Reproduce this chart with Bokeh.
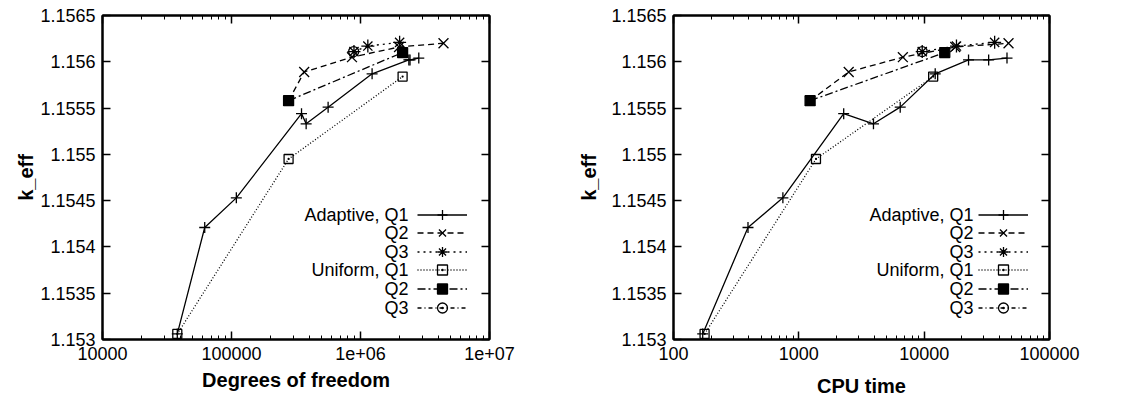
from bokeh.plotting import figure
from bokeh.models import (FixedTicker, CustomJSTickFormatter, LinearAxis, LogAxis,
                          Range1d, Legend, LegendItem, Label)
from bokeh.layouts import row
from bokeh.core.properties import value
from bokeh.embed import file_html
from bokeh.resources import INLINE

FONT = "Liberation Sans"

# ---------------- data ----------------
series_labels = ["Adaptive, Q1", "Q2", "Q3", "Uniform, Q1", "Q2", "Q3"]

adaptive_q1_dofs = [3.8e4, 6.2e4, 1.09e5, 3.49e5, 3.79e5, 5.61e5, 1.23e6, 2.37e6, 2.42e6, 2.83e6]
adaptive_q1_cpu = [171, 393, 746, 2280, 3940, 6440, 12250, 22600, 32700, 45800]
adaptive_q1_k = [1.15306, 1.15421, 1.15453, 1.15544, 1.15533, 1.15551, 1.15587, 1.15602, 1.15602, 1.15604]

adaptive_q2_dofs = [2.77e5, 3.66e5, 8.59e5, 1.99e6, 4.4e6]
adaptive_q2_cpu = [1230, 2500, 6760, 17700, 47100]
adaptive_q2_k = [1.15558, 1.15589, 1.15605, 1.15616, 1.15620]

adaptive_q3_dofs = [8.9e5, 1.14e6, 2.01e6]
adaptive_q3_cpu = [9650, 18100, 36500]
adaptive_q3_k = [1.15611, 1.15617, 1.15621]

uniform_q1_dofs = [3.8e4, 2.77e5, 2.12e6]
uniform_q1_cpu = [177, 1370, 11800]
uniform_q1_k = [1.15306, 1.15495, 1.15584]

uniform_q2_dofs = [2.77e5, 2.12e6]
uniform_q2_cpu = [1230, 14600]
uniform_q2_k = [1.15558, 1.15610]

uniform_q3_dofs = [8.85e5]
uniform_q3_cpu = [9650]
uniform_q3_k = [1.15611]

y_ticks = [1.153, 1.1535, 1.154, 1.1545, 1.155, 1.1555, 1.156, 1.1565]
dof_decades = [1e4, 1e5, 1e6, 1e7]
cpu_decades = [1e2, 1e3, 1e4, 1e5]

dofs_series = [adaptive_q1_dofs, adaptive_q2_dofs, adaptive_q3_dofs,
               uniform_q1_dofs, uniform_q2_dofs, uniform_q3_dofs]
cpu_series = [adaptive_q1_cpu, adaptive_q2_cpu, adaptive_q3_cpu,
              uniform_q1_cpu, uniform_q2_cpu, uniform_q3_cpu]
k_series = [adaptive_q1_k, adaptive_q2_k, adaptive_q3_k,
            uniform_q1_k, uniform_q2_k, uniform_q3_k]

# ---------------- styles ----------------
styles = [
    dict(dash="solid", marker="cross", size=11, fill=None),
    dict(dash="6 4", marker="x", size=14, fill=None),
    dict(dash="2 4", marker="asterisk", size=13, fill=None),
    dict(dash="1 2", marker="square_dot", size=9, fill=None),
    dict(dash="8 3 2 3", marker="square", size=10, fill="black"),
    dict(dash="4 3 1 3", marker="circle_dot", size=10, fill=None),
]

x_fmt = CustomJSTickFormatter(code="""
const e = Math.round(Math.log10(tick));
if (e >= 6) { return "1e+" + (e < 10 ? "0" : "") + e; }
return String(Math.round(tick));
""")
y_fmt = CustomJSTickFormatter(code="return String(parseFloat(tick.toFixed(5)));")
blank_fmt = CustomJSTickFormatter(code="return '';")


def minor_list(decades):
    out = []
    for d in decades[:-1]:
        for m in range(2, 10):
            out.append(m * d)
    return out


def style_axis(ax, labels=True):
    ax.axis_line_width = 2
    ax.axis_line_color = "black"
    ax.major_tick_in = 8
    ax.major_tick_out = 0
    ax.minor_tick_in = 4
    ax.minor_tick_out = 0
    ax.major_tick_line_width = 1.5
    ax.minor_tick_line_width = 1
    ax.major_tick_line_color = "black"
    ax.minor_tick_line_color = "black"
    if labels:
        ax.major_label_text_font = FONT
        ax.major_label_text_font_size = "18px"
        ax.major_label_text_color = "black"
        ax.axis_label_text_font = FONT
        ax.axis_label_text_font_size = "20px"
        ax.axis_label_text_font_style = "bold"
        ax.axis_label_text_color = "black"
    else:
        ax.major_label_text_font_size = "1px"
        ax.major_label_standoff = 0


def make_panel(xs_list, decades, xlabel, width, left_border, right_border,
               legend_x, label_x, ylab_standoff, xlab_standoff):
    p = figure(width=width, height=399, x_axis_type="log",
               x_range=Range1d(decades[0], decades[-1]),
               y_range=Range1d(y_ticks[0], y_ticks[-1]),
               output_backend="svg", toolbar_location=None,
               min_border_left=left_border, min_border_right=right_border,
               min_border_top=15, min_border_bottom=59)
    p.grid.visible = False
    p.outline_line_color = "black"
    p.outline_line_width = 2
    p.background_fill_color = "white"
    p.border_fill_color = "white"

    xt = FixedTicker(ticks=decades, minor_ticks=minor_list(decades))
    yt = FixedTicker(ticks=y_ticks, minor_ticks=[])

    xa = p.xaxis[0]
    xa.ticker = xt
    xa.formatter = x_fmt
    xa.axis_label = xlabel
    style_axis(xa)
    xa.major_label_standoff = 7
    xa.axis_label_standoff = xlab_standoff

    ya = p.yaxis[0]
    ya.ticker = yt
    ya.formatter = y_fmt
    ya.axis_label = "k_eff"
    style_axis(ya)
    ya.major_label_standoff = 7
    ya.axis_label_standoff = ylab_standoff

    top = LogAxis(ticker=xt, formatter=blank_fmt)
    style_axis(top, labels=False)
    p.add_layout(top, "above")
    right = LinearAxis(ticker=yt, formatter=blank_fmt)
    style_axis(right, labels=False)
    p.add_layout(right, "right")

    gh = 25        # glyph box height (sets legend marker size)
    pitch = 18.6   # vertical distance between legend rows
    bottom_row = 32  # centre of last legend row, px above frame bottom
    n = len(series_labels)

    for i, (xs, ks, st, txt) in enumerate(zip(xs_list, k_series, styles, series_labels)):
        lr = p.line(xs, ks, line_color="black", line_width=1.3, line_dash=st["dash"])
        sr = p.scatter(xs, ks, marker=st["marker"], size=st["size"],
                       line_color="black", line_width=1.3,
                       fill_color=st["fill"])
        yc = bottom_row + (n - 1 - i) * pitch
        leg = Legend(items=[LegendItem(label=value(""), renderers=[lr, sr])],
                     location=(legend_x, yc - gh / 2),
                     glyph_width=50, glyph_height=gh, label_height=0,
                     label_width=0, label_standoff=0, spacing=0, padding=0,
                     margin=0, label_text_font_size="1px",
                     border_line_alpha=0, background_fill_alpha=0)
        p.add_layout(leg, "center")
        p.add_layout(Label(x=label_x, y=yc, x_units="screen", y_units="screen",
                           text=txt, text_align="right", text_baseline="middle",
                           text_font=FONT, text_font_size="18px",
                           text_color="black"))
    return p


p1 = make_panel(dofs_series, dof_decades, "Degrees of freedom", 568, 102, 79,
                legend_x=315, label_x=306, ylab_standoff=0, xlab_standoff=6)
p2 = make_panel(cpu_series, cpu_decades, "CPU time", 569, 105, 88,
                legend_x=305, label_x=300, ylab_standoff=8, xlab_standoff=12)

layout = row(p1, p2, spacing=0)
open("out.html", "w").write(file_html(layout, INLINE))
